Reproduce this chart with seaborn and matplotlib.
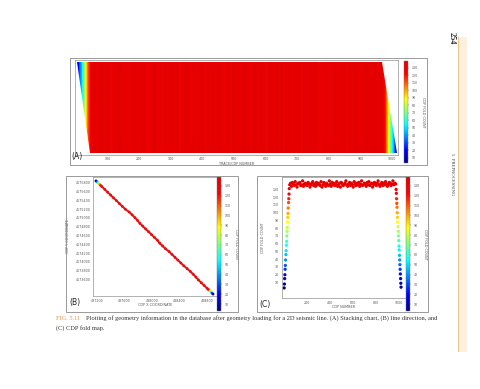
import numpy as np
import pandas as pd
import matplotlib
matplotlib.use("Agg")
import matplotlib.pyplot as plt
import seaborn as sns
from matplotlib.colors import LinearSegmentedColormap, Normalize
from matplotlib.patches import Polygon, Rectangle
from matplotlib.cm import ScalarMappable
import matplotlib.ticker as mticker

sns.set_style("white")
plt.rcParams["font.family"] = ["DejaVu Sans"]

# ---------------- data ----------------
# CDP fold profile (panel C, also colours of panel A)
left_ramp_cdp = [2, 4, 6, 8, 10, 12, 14, 17, 19, 21, 23, 25, 27, 29, 31, 33, 35, 37, 40, 42, 44, 46]
left_ramp_fold = [3, 8, 15, 20, 27, 32, 39, 46, 51, 58, 63, 70, 76, 81, 88, 94, 99, 106, 113, 118, 124, 131]
plateau_start, plateau_step = 50, 8
plateau_fold = [
    136, 138, 134, 139, 137, 135, 140, 136, 133, 138,
    137, 139, 135, 136, 141, 134, 137, 138, 136, 135,
    139, 137, 133, 136, 138, 140, 135, 137, 134, 139,
    136, 138, 137, 135, 140, 133, 136, 139, 137, 134,
    138, 136, 135, 141, 137, 134, 139, 136, 138, 135,
    137, 140, 134, 136, 138, 133, 139, 137, 135, 136,
    138, 141, 136, 134, 137, 139, 135, 138, 136, 133,
    140, 137, 135, 138, 136, 139, 134, 137, 141, 135,
    136, 138, 137, 134, 139, 136, 140, 135, 137, 138,
    133, 136, 139, 137, 135, 138, 141, 136, 134, 137,
    139, 135, 138, 136, 140, 137, 134, 136, 139, 138,
    135, 137, 141, 136, 138, 137,
]
right_ramp_cdp = [974, 976, 978, 980, 982, 984, 986, 988, 991, 993, 995, 997, 999, 1001, 1003, 1005, 1007, 1009, 1011, 1013, 1015, 1017]
right_ramp_fold = [130, 125, 118, 112, 107, 100, 94, 88, 82, 76, 70, 64, 57, 52, 45, 39, 33, 27, 21, 15, 9, 4]

# stacking chart outline (panel A)
stack_shot = [1, 120]
stack_first_cdp = [3, 44]
stack_last_cdp = [966, 1014]

# line direction (panel B)
b_x = [487185, 487199, 487212, 487226, 487239, 487253, 487270, 487313, 487355, 487398,
       487440, 487483, 487525, 487568, 487611, 487668, 487711, 487752, 487790, 487823,
       487866, 487908, 487951, 487993, 488036, 488079, 488111, 488154, 488196, 488249,
       488291, 488334, 488376, 488419, 488462, 488510, 488557, 488599, 488638, 488674,
       488717, 488759, 488802, 488819, 488833, 488846, 488860, 488873, 488887]
b_y = [4575844, 4575823, 4575803, 4575782, 4575762, 4575741, 4575715, 4575651, 4575587, 4575522,
       4575458, 4575394, 4575329, 4575265, 4575201, 4575136, 4575072, 4575007, 4574943, 4574879,
       4574814, 4574750, 4574686, 4574621, 4574557, 4574493, 4574428, 4574364, 4574300, 4574235,
       4574171, 4574106, 4574042, 4573978, 4573913, 4573849, 4573785, 4573720, 4573656, 4573592,
       4573527, 4573463, 4573399, 4573373, 4573352, 4573332, 4573311, 4573291, 4573270]
b_fold = [4, 28, 55, 80, 102, 120, 133,
          136, 138, 135, 137, 139, 136, 134, 138, 137, 135, 139, 136, 138, 137, 134, 136, 139, 137,
          135, 138, 136, 137, 139, 135, 136, 138, 137, 134, 139, 136, 138, 135, 137, 136, 138, 135,
          128, 108, 84, 58, 30, 6]

a_xticks = [100, 200, 300, 400, 500, 600, 700, 800, 900, 1000]
b_xticks = [487200, 487600, 488000, 488400, 488800]
b_yticks = [4575800, 4575600, 4575400, 4575200, 4575000, 4574800, 4574600,
            4574400, 4574200, 4574000, 4573800, 4573600]
c_xticks = [200, 400, 600, 800, 1000]
fold_ticks = [10, 20, 30, 40, 50, 60, 70, 80, 90, 100, 110, 120, 130]

caption_tag = "FIG. 5.11"
caption_1 = ("Plotting of geometry information in the database after geometry loading for a 2D seismic "
             "line. (A) Stacking chart, (B) line direction, and")
caption_2 = "(C) CDP fold map."

# ---------------- setup ----------------
W, H = 480, 389
fig = plt.figure(figsize=(4.8, 3.89), dpi=100)
fig.patch.set_facecolor("white")


def rect(x0, y0, x1, y1):
    return [x0 / W, 1 - y1 / H, (x1 - x0) / W, (y1 - y0) / H]


cmap = LinearSegmentedColormap.from_list(
    "fold", ["#00008f", "#0000ff", "#0080ff", "#00ffff", "#80ff80",
             "#ffff00", "#ff8000", "#ff0000", "#e20000"])
norm = Normalize(3, 139)

TICK_FS = 2.3
LAB_FS = 2.4
GREY = "#555555"


def style_axis(ax):
    for s in ax.spines.values():
        s.set_color("#777777")
        s.set_linewidth(0.4)
    ax.tick_params(axis="both", which="both", length=1.2, width=0.3, pad=0.8,
                   labelsize=TICK_FS, colors=GREY)
    ax.tick_params(which="minor", length=0.8)


def style_cbar(cax, label):
    cb = fig.colorbar(ScalarMappable(norm=norm, cmap=cmap), cax=cax)
    cb.set_ticks(fold_ticks)
    cb.outline.set_linewidth(0.3)
    cb.outline.set_edgecolor("#777777")
    cax.tick_params(length=1.0, width=0.3, pad=1.5, labelsize=TICK_FS, colors=GREY)
    cb.set_label(label, rotation=270, fontsize=LAB_FS, color=GREY, labelpad=5)
    return cb


def box(x0, y0, x1, y1):
    fig.add_artist(Rectangle((x0 / W, 1 - y1 / H), (x1 - x0) / W, (y1 - y0) / H,
                             transform=fig.transFigure, fill=False,
                             edgecolor="#8a8a8a", linewidth=0.6))


cdp_all = np.concatenate([left_ramp_cdp,
                          plateau_start + plateau_step * np.arange(len(plateau_fold)),
                          right_ramp_cdp]).astype(float)
fold_all = np.concatenate([left_ramp_fold, plateau_fold, right_ramp_fold]).astype(float)

# ---------------- panel A: stacking chart ----------------
axA = fig.add_axes(rect(75, 60, 398, 155))
mid = (cdp_all[1:] + cdp_all[:-1]) / 2
edges = np.concatenate([[cdp_all[0] - 2], mid, [cdp_all[-1] + 2]])
mesh = axA.pcolormesh(edges, [stack_shot[0], stack_shot[1]], fold_all[None, :],
                      cmap=cmap, norm=norm, shading="flat")
poly = Polygon([(stack_first_cdp[0], stack_shot[0]), (stack_last_cdp[0], stack_shot[0]),
                (stack_last_cdp[1], stack_shot[1]), (stack_first_cdp[1], stack_shot[1])],
               closed=True, transform=axA.transData, facecolor="none", edgecolor="none")
mesh.set_clip_path(poly)
axA.set_xlim(-3, 1018)
axA.set_ylim(122.6, -1.6)
axA.set_xticks(a_xticks)
axA.xaxis.set_minor_locator(mticker.MultipleLocator(10))
axA.set_yticks([])
axA.set_xlabel("TRACE/CDP NUMBER", fontsize=LAB_FS, color=GREY, labelpad=0.5)
style_axis(axA)
axA.tick_params(axis="x", which="both", direction="inout")
caxA = fig.add_axes(rect(404, 61, 408, 163))
style_cbar(caxA, "CDP FOLD COUNT")
box(70, 58, 427, 165)

# ---------------- panel B: line direction ----------------
dfB = pd.DataFrame({"x": b_x, "y": b_y, "fold": b_fold})
axB = fig.add_axes(rect(93, 177, 217, 296))
mainB = dfB[dfB["fold"] >= 125]
sns.lineplot(data=mainB, x="x", y="y", sort=False, color="#e81010", linewidth=1.4,
             ax=axB, legend=False)
sns.scatterplot(data=dfB, x="x", y="y", hue="fold", palette=cmap, hue_norm=norm,
                s=4, linewidth=0, legend=False, ax=axB)
axB.set_xlim(487142, 488945)
axB.set_ylim(4573226, 4575932)
axB.set_xticks(b_xticks)
axB.set_yticks(b_yticks)
axB.xaxis.set_major_formatter(mticker.FormatStrFormatter("%d"))
axB.yaxis.set_major_formatter(mticker.FormatStrFormatter("%d"))
axB.set_xlabel("CDP X COORDINATE", fontsize=LAB_FS, color=GREY, labelpad=0.5)
axB.set_ylabel("CDP Y COORDINATE", fontsize=LAB_FS, color=GREY, labelpad=4)
style_axis(axB)
caxB = fig.add_axes(rect(217, 177, 221, 311))
style_cbar(caxB, "CDP FOLD COUNT")
box(66, 176, 238, 312)

# ---------------- panel C: fold map ----------------
dfC = pd.DataFrame({"cdp": cdp_all, "fold": fold_all})
axC = fig.add_axes(rect(282, 177, 406, 298))
sns.scatterplot(data=dfC, x="cdp", y="fold", hue="fold", palette=cmap, hue_norm=norm,
                s=5.5, linewidth=0, legend=False, ax=axC)
axC.set_xlim(-17, 1060)
axC.set_ylim(-10, 146)
axC.set_xticks(c_xticks)
axC.set_yticks(fold_ticks)
axC.set_xlabel("CDP NUMBER", fontsize=LAB_FS, color=GREY, labelpad=0.5)
axC.set_ylabel("CDP FOLD COUNT", fontsize=LAB_FS, color=GREY, labelpad=6)
style_axis(axC)
caxC = fig.add_axes(rect(406, 177, 410, 311))
style_cbar(caxC, "CDP FOLD COUNT")
box(257, 176, 428, 312)

# panel letters
for txt, (px, py) in {"(A)": (71, 157), "(B)": (69, 303), "(C)": (259, 304)}.items():
    fig.text(px / W, 1 - py / H, txt, fontsize=5.5, color="#222222", va="center", ha="left")

# caption
CAP_FS = 4.6
fig.text(56 / W, 1 - 318 / H, caption_tag, fontsize=CAP_FS, color="#e0924a",
         family=["Liberation Serif"], va="center", ha="left")
fig.text(86 / W, 1 - 318 / H, caption_1, fontsize=CAP_FS, color="#333333",
         family=["Liberation Serif"], va="center", ha="left")
fig.text(56 / W, 1 - 328 / H, caption_2, fontsize=CAP_FS, color="#333333",
         family=["Liberation Serif"], va="center", ha="left")

# page decorations
fig.add_artist(Rectangle((458 / W, 1 - 352 / H), 9 / W, 315 / H, transform=fig.transFigure,
                         facecolor="#fdf0dd", edgecolor="none"))
fig.add_artist(Rectangle((458 / W, 1 - 352 / H), 0.8 / W, 315 / H, transform=fig.transFigure,
                         facecolor="#f0c48a", edgecolor="none"))
fig.text(452 / W, 1 - 38 / H, "254", fontsize=6, fontweight="bold", color="#333333",
         family=["Liberation Serif"], rotation=-90, va="center", ha="center")
fig.text(452 / W, 1 - 174 / H, "5. PREPROCESSING", fontsize=3.4, color="#444444",
         family=["Liberation Serif"], rotation=-90, va="center", ha="center")

fig.savefig("out.png", dpi=100, facecolor="white")
